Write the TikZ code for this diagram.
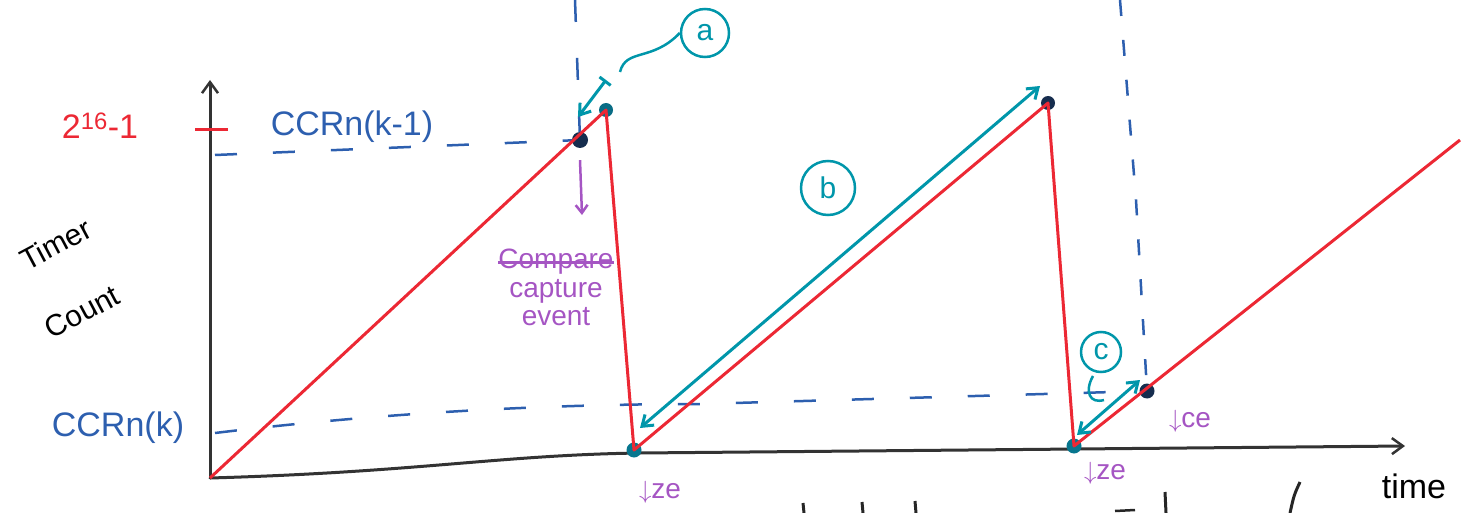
\documentclass[tikz,border=0pt]{standalone}
\usepackage{fontspec}
\setmainfont{Liberation Sans}
\usetikzlibrary{arrows.meta, positioning, calc}

\definecolor{rampred}{RGB}{236,40,52}
\definecolor{refblue}{RGB}{45,95,175}
\definecolor{spanteal}{RGB}{0,150,170}
\definecolor{notepurple}{RGB}{165,85,195}
\definecolor{dotnavy}{RGB}{22,45,78}

\begin{document}
\begin{tikzpicture}[
    x=1pt, y=-1pt,
    dot/.style={circle, fill=dotnavy, inner sep=0pt, minimum size=16pt},
    ramp/.style={draw=rampred, line width=3pt, line join=round},
    axis/.style={draw=black!80, line width=3pt, line cap=round, -{Straight Barb[length=11pt, width=16pt, line width=2.5pt]}},
    refline/.style={draw=refblue, line width=2.5pt, dash pattern=on 22pt off 36pt},
    span/.style={draw=spanteal, line width=3pt, {Straight Barb[length=10pt, width=14pt]}-{Straight Barb[length=10pt, width=14pt]}},
    tag/.style={draw=spanteal, circle, line width=2.5pt, text=spanteal, inner sep=0pt, font=\fontsize{30}{32}\selectfont},
    note/.style={text=notepurple, font=\fontsize{28}{30}\selectfont, inner sep=0pt},
    lbl/.style={font=\fontsize{34}{36}\selectfont, inner sep=1pt}
]
\useasboundingbox (0,0) rectangle (1471,513);

% Axes
\coordinate (o) at (210,478);
\coordinate (ytop) at (210,80);
\coordinate (xend) at (1405,446);
\draw[axis] (o) -- (ytop);
\draw[axis] (o) .. controls (420,472) and (500,455) .. (640,453) -- (xend);

% Dots
\node[dot] (cap1) at (580,140) {};
\node[dot, fill=spanteal!60!dotnavy, minimum size=14pt] (top1) at (606,110) {};
\node[dot, fill=spanteal!70!dotnavy, minimum size=15pt] (zero1) at (634,450) {};
\node[dot, minimum size=14pt] (top2) at (1048,103) {};
\node[dot, fill=spanteal!70!dotnavy, minimum size=15pt] (zero2) at (1074,446) {};
\node[dot, minimum size=15pt] (cap2) at (1147,391) {};
\coordinate (rampend) at (1460,140);

% Reference lines
\coordinate (vtop1) at (575,0);
\coordinate (vtop2) at (1120,0);
\coordinate (hleft1) at (215,155);
\coordinate (hleft2) at (215,433);
\draw[refline] (vtop1) -- (cap1);
\draw[refline, dash pattern=on 16pt off 24pt] (vtop2) -- (1136,200) -- (cap2);
\draw[refline] (hleft1) -- (cap1);
\draw[refline] (hleft2) .. controls (420,408) and (600,404) .. (700,404) -- (cap2);

% Counter ramp
\draw[ramp] (o) -- (top1.center) -- (zero1.center) -- (top2.center) -- (zero2.center) -- (rampend);
\draw[rampred, line width=3pt] (195,130) -- (228,130);

% Labels
\node[lbl, text=rampred] (max) at (100,126) {2\textsuperscript{16}-1};
\node[lbl, text=refblue] (ccrprev) at (352,127) {CCRn(k-1)};
\node[lbl, text=refblue] (ccrnow) at (118,428) {CCRn(k)};
\node[lbl, rotate=28, inner sep=0pt, font=\fontsize{30}{32}\selectfont] (timer) at (56,244) {Timer};
\node[lbl, rotate=28, inner sep=0pt, font=\fontsize{30}{32}\selectfont] (count) at (82,312) {Count};
\node[lbl] (time) at (1414,486) {time};

% Capture note
\node[note] (compare) at (556,262) {Compare};
\draw[notepurple, line width=3pt] (compare.west) -- (compare.east);
\node[note, below=4pt of compare] (capture) {capture};
\node[note, below=4pt of capture] (event) {event};
\draw[notepurple, line width=2.5pt, -{Straight Barb[length=8pt, width=12pt]}] (cap1.south) ++(0,12) -- (582,215);

% Edge marks
\node[note] (ze1) at (660,492) {$\downarrow$ze};
\node[note] (ze2) at (1105,473) {$\downarrow$ze};
\node[note] (ce2) at (1190,421) {$\downarrow$ce};

% Intervals
\node[tag, minimum size=48pt] (taga) at (705,33) {a};
\node[tag, minimum size=54pt] (tagb) at (828,188) {b};
\node[tag, minimum size=40pt] (tagc) at (1101,352) {c};
\coordinate (a1) at (606,80);
\coordinate (a2) at (578,117);
\draw[span, {Bar[width=14pt]}-{Straight Barb[length=10pt, width=14pt]}] (a1) -- (a2);
\draw[draw=spanteal, line width=2.5pt] (620,72) .. controls (626,48) and (652,62) .. (taga.west);
\draw[span] (640,428) -- (1040,86);
\draw[span] (1077,435) -- (1140,380);
\draw[draw=spanteal, line width=2.5pt] (1093,376) .. controls (1084,392) and (1090,404) .. (1104,400);

% Cut-off writing at the bottom edge
\foreach \sx/\sy in {803/503, 862/502, 915/501, 1165/492}
  \draw[black!85, line width=3pt] (\sx,\sy) -- (\sx+1,513);
\draw[black!85, line width=3pt] (1300,482) .. controls (1294,495) .. (1290,513);
\draw[black!85, line width=2.5pt] (1115,511) -- (1135,510);

\end{tikzpicture}
\end{document}
